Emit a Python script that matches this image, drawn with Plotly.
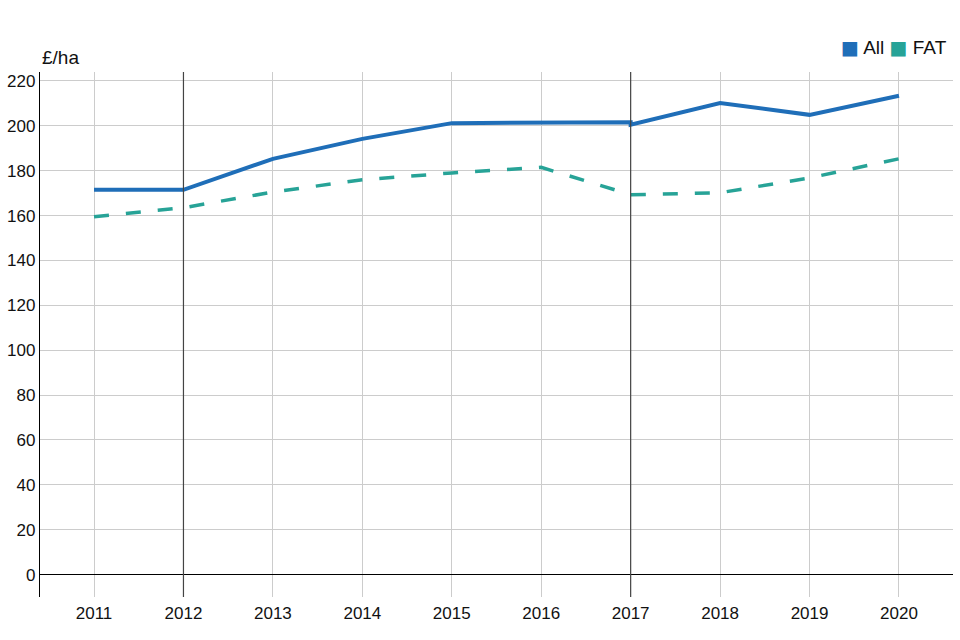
import plotly.graph_objects as go

years = [2011, 2012, 2013, 2014, 2015, 2016, 2017, 2018, 2019, 2020]
# "All" has a series break at 2017 (two values)
all_x = [2011, 2012, 2013, 2014, 2015, 2016, 2017, 2017, 2018, 2019, 2020]
all_y = [171.5, 171.5, 185.3, 194.2, 201.2, 201.5, 201.6, 200.5, 210.2, 204.9, 213.4]
fat_x = [2011, 2012, 2013, 2014, 2015, 2016, 2017, 2018, 2019, 2020]
fat_y = [159.5, 163.5, 170.5, 176.0, 179.0, 181.5, 169.3, 170.2, 176.8, 185.3]
break_years = [2012, 2017]
y_ticks = [0, 20, 40, 60, 80, 100, 120, 140, 160, 180, 200, 220]
series_names = ["All", "FAT"]

BLUE = "#1f6eb8"
TEAL = "#27a397"
FONT = "Liberation Sans, Arial, sans-serif"

fig = go.Figure()
fig.add_trace(go.Scatter(x=all_x, y=all_y, mode="lines", name=series_names[0],
                         line=dict(color=BLUE, width=4), showlegend=False))
fig.add_trace(go.Scatter(x=fat_x, y=fat_y, mode="lines", name=series_names[1],
                         line=dict(color=TEAL, width=3.5, dash="15px,17px"), showlegend=False))

for yr in break_years:
    fig.add_vline(x=yr, line=dict(color="#444444", width=1.2), layer="above")

sq = "font-family:DejaVu Sans;font-size:19px"
legend_text = (f"<span style='color:{BLUE};{sq}'>■</span> {series_names[0]} "
               f"<span style='color:{TEAL};{sq}'>■</span> {series_names[1]}")

fig.update_layout(
    width=960, height=640,
    margin=dict(l=40, r=7, t=72, b=43, autoexpand=False),
    paper_bgcolor="white", plot_bgcolor="white",
    font=dict(family=FONT, size=17, color="#111111"),
    showlegend=False,
    xaxis=dict(range=[2010.396, 2020.604], tickmode="array", tickvals=years,
               ticktext=[str(y) for y in years], showgrid=True, gridcolor="#cccccc",
               gridwidth=1, zeroline=False, showline=False, ticks="",
               tickfont=dict(size=17), automargin=False, ticklabelstandoff=4),
    yaxis=dict(range=[-10, 224], tickmode="array", tickvals=y_ticks,
               showgrid=True, gridcolor="#cccccc", gridwidth=1,
               zeroline=True, zerolinecolor="#000000", zerolinewidth=1.3,
               showline=True, linecolor="#000000", linewidth=1.3,
               ticks="", tickfont=dict(size=17), automargin=False),
    annotations=[
        dict(text="£/ha", xref="paper", yref="paper", x=0, y=1.0,
             xanchor="left", yanchor="bottom", yshift=2, showarrow=False,
             font=dict(size=19, family=FONT, color="#111111")),
        dict(text=legend_text, xref="paper", yref="paper", x=1.0, y=1.0,
             xanchor="right", yanchor="middle", yshift=25, xshift=-4, showarrow=False,
             font=dict(size=19, family=FONT, color="#111111")),
    ],
)

fig.write_html("out.html", post_script="document.body.style.margin='0';",
               config={"displayModeBar": False})
